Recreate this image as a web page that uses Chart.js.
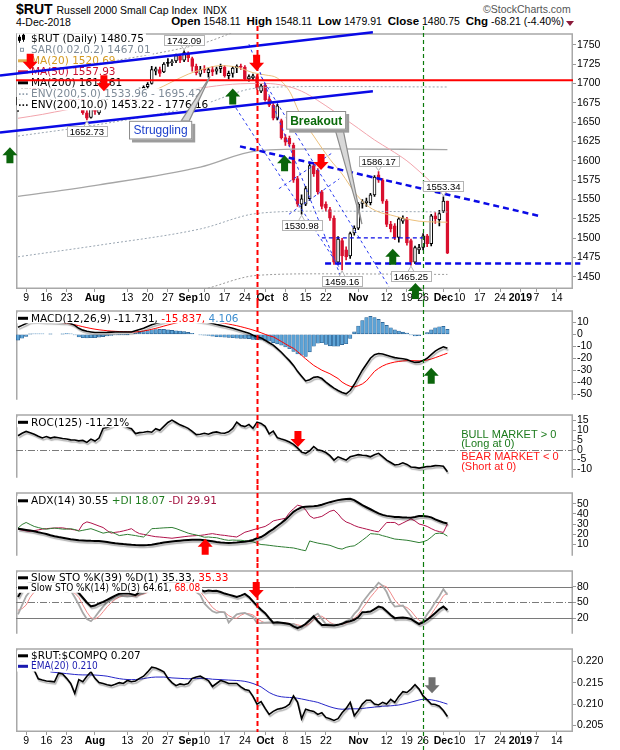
<!DOCTYPE html>
<html lang="en">
<head>
<meta charset="utf-8">
<title>$RUT Russell 2000 Small Cap Index</title>
<script src="https://cdn.jsdelivr.net/npm/chart.js@4.4.1/dist/chart.umd.min.js"></script>
<style>
  html, body { margin: 0; padding: 0; background: #fff; }
  body { position: relative; width: 620px; height: 750px; overflow: hidden;
         font-family: "Liberation Sans", Arial, sans-serif; color: #000; }
  .pane { position: absolute; left: 0; width: 620px; }
  #title { position: absolute; left: 16px; top: 1px; font-size: 10.5px; white-space: nowrap; }
  #title b { font-size: 14px; margin-right: 1px; }
  #title .ex { font-size: 10px; margin-left: 3px; }
  #copy { position: absolute; left: 483px; top: 3px; font-size: 10.5px; color: #555; }
  #date { position: absolute; left: 16px; top: 16px; font-size: 10.5px; }
  #quote { position: absolute; right: 56px; top: 15px; font-size: 10.5px; white-space: nowrap; }
  #quote b { font-size: 11.5px; }
  #tri { position: absolute; left: 566px; top: 21px; width: 0; height: 0;
         border-left: 4px solid transparent; border-right: 4px solid transparent;
         border-top: 5px solid #8b1a3a; }
</style>
</head>
<body>
<div id="title"><b>$RUT</b> Russell 2000 Small Cap Index <span class="ex">INDX</span></div>
<div id="copy">&copy;StockCharts.com</div>
<div id="date">4-Dec-2018</div>
<div id="quote"><b>Open</b> 1548.11 &nbsp;<b>High</b> 1548.11 &nbsp;<b>Low</b> 1479.91 &nbsp;<b>Close</b> 1480.75 &nbsp;<b>Chg</b> -68.21 (-4.40%)</div>
<div id="tri"></div>

<div class="pane" style="top:26px;height:277px"><canvas id="mainChart"></canvas></div>
<div class="pane" style="top:303px;height:104px"><canvas id="macdChart"></canvas></div>
<div class="pane" style="top:407px;height:78px"><canvas id="rocChart"></canvas></div>
<div class="pane" style="top:485px;height:78px"><canvas id="adxChart"></canvas></div>
<div class="pane" style="top:563px;height:78px"><canvas id="stoChart"></canvas></div>
<div class="pane" style="top:641px;height:109px"><canvas id="ratioChart"></canvas></div>

<script>
// x values are trading-day numbers: 0 = 5 Jul 2018, 106 = 4 Dec 2018, later ones are future sessions
const tickDays = [2, 7, 12, 19, 27, 32, 37, 42, 46, 51, 56, 61, 66, 71, 76, 84, 91, 96, 100, 105, 109, 114, 119, 124, 128, 133];
const tickLabels = ["9", "16", "23", "Aug", "13", "20", "27", "Sep", "10", "17", "24", "Oct", "8", "15", "22", "Nov", "12", "19", "26", "Dec", "10", "17", "24", "2019", "7", "14"];
const monthLabels = ["Aug", "Sep", "Oct", "Nov", "Dec", "2019"];
const markerDays = [59, 100];

// daily candles
const openP = [
  1672, 1682, 1693, 1699, 1694, 1688, 1693, 1688, 1682, 1691,
  1690, 1686, 1686, 1690, 1676, 1684, 1680, 1662, 1656, 1670,
  1662, 1675, 1680, 1686, 1690, 1687, 1682, 1680, 1674, 1686,
  1682, 1690, 1696, 1700, 1716, 1718, 1715, 1727, 1727, 1729,
  1735, 1730, 1738, 1732, 1722, 1712, 1719, 1714, 1718, 1716,
  1719, 1721, 1710, 1713, 1720, 1722, 1721, 1706, 1707, 1709,
  1690, 1698, 1680, 1672, 1655, 1652, 1630, 1629, 1620, 1577,
  1544, 1544, 1551, 1594, 1588, 1560, 1544, 1537, 1526, 1469,
  1497, 1485, 1477, 1507, 1513, 1545, 1546, 1546, 1556, 1582,
  1575, 1548, 1518, 1516, 1501, 1522, 1525, 1497, 1469, 1485,
  1488, 1503, 1493, 1529, 1524, 1535, 1548.11];
const highP = [
  1684, 1694, 1702, 1703, 1697, 1695, 1696, 1691, 1693, 1696,
  1693, 1692, 1690, 1693, 1686, 1688, 1682, 1665, 1672, 1674,
  1676, 1682, 1687, 1693, 1692, 1690, 1685, 1684, 1689, 1688,
  1694, 1697, 1701, 1722, 1721, 1721, 1727, 1732, 1731, 1738,
  1737, 1742.09, 1741, 1734, 1725, 1722, 1723, 1720, 1722, 1721,
  1725, 1723, 1716, 1722, 1724, 1725, 1723, 1711, 1712, 1711,
  1699, 1700, 1683, 1674, 1673, 1654, 1634, 1632, 1623, 1580,
  1556, 1567, 1597, 1598, 1590, 1562, 1547, 1540, 1529, 1502,
  1500, 1489, 1508, 1516, 1546, 1550, 1552, 1558, 1581, 1586.17,
  1577, 1550, 1522, 1519, 1527, 1529, 1527, 1499, 1490, 1492,
  1506, 1505, 1531, 1533, 1536, 1553.34, 1548.11];
const lowP = [
  1664, 1680, 1690, 1692, 1683, 1684, 1686, 1680, 1679, 1686,
  1681, 1683, 1679, 1673, 1670, 1676, 1660, 1652.73, 1655, 1660,
  1660, 1672, 1677, 1684, 1683, 1682, 1676, 1670, 1673, 1672,
  1680, 1686, 1693, 1699, 1711, 1709, 1714, 1722, 1723, 1727,
  1727, 1728, 1728, 1716, 1711, 1709, 1714, 1708, 1710, 1712,
  1714, 1708, 1706, 1708, 1714, 1718, 1704, 1703, 1704, 1692,
  1688, 1677, 1670, 1653, 1653, 1628, 1620, 1619, 1572, 1541,
  1530.98, 1542, 1549, 1580, 1557, 1538, 1535, 1523, 1466, 1466,
  1459.16, 1472, 1474, 1504, 1511, 1539, 1541, 1543, 1554, 1572,
  1545, 1515, 1508, 1498, 1495, 1519, 1491, 1465.25, 1467, 1480,
  1485, 1489, 1490, 1519, 1516, 1533, 1479.91];
const closeP = [
  1682, 1692, 1699, 1695, 1686, 1693, 1688, 1684, 1691, 1690,
  1686, 1688, 1688, 1676, 1684, 1680, 1662, 1655, 1670, 1664,
  1674, 1680, 1685, 1690, 1686, 1684, 1680, 1673, 1688, 1680,
  1691, 1695, 1699, 1718, 1719, 1713, 1725, 1726, 1728, 1736,
  1730, 1740, 1733, 1722, 1714, 1718, 1717, 1718, 1715, 1719,
  1722, 1710, 1713, 1720, 1722, 1721, 1706, 1709, 1710, 1694,
  1697, 1679, 1672, 1655, 1671, 1630, 1624, 1622, 1575, 1544,
  1551, 1564, 1594, 1583, 1560, 1541, 1539, 1526, 1469, 1499,
  1477, 1476, 1506, 1513, 1544, 1547, 1548, 1556, 1579, 1575,
  1548, 1518, 1512, 1501, 1525, 1526, 1494, 1469, 1488, 1488,
  1503, 1493, 1529, 1525, 1532, 1548, 1480.75];

// price overlays, read at a few days each
const ma20 = [[0, 1680], [6, 1684], [12, 1686], [18, 1684], [24, 1682], [30, 1686], [34, 1692], [38, 1702], [42, 1712], [46, 1719], [50, 1723], [54, 1721], [58, 1714], [61, 1711], [64, 1707], [67, 1690], [70, 1656], [73, 1632], [77, 1602], [80, 1583], [83, 1560], [86, 1543], [89, 1534], [92, 1530], [95, 1526], [99, 1522], [103, 1521], [106, 1520.69]];
const ma50 = [[0, 1655], [6, 1660], [12, 1666], [20, 1672], [28, 1678], [36, 1686], [45, 1694], [53, 1699], [61, 1700], [66, 1697], [70, 1690], [74, 1678], [78, 1664], [84, 1642], [88, 1627], [92, 1614], [96, 1600], [100, 1582], [103, 1568], [106, 1557.93]];
const ma200 = [[0, 1554], [20, 1569], [45, 1592], [59, 1613], [75, 1615.5], [106, 1614.61]];
const env5Upper = [[0, 1632], [20, 1647], [45, 1672], [59, 1694], [75, 1696], [106, 1695.42]];
const env5Lower = [[0, 1476], [20, 1491], [45, 1512], [59, 1532], [75, 1535], [106, 1533.96]];
const env10Upper = [[0, 1709], [20, 1726], [45, 1751], [59, 1774], [75, 1777], [106, 1776.16]];
const env10Lower = [[0, 1399], [20, 1412], [45, 1433], [59, 1452], [75, 1454], [106, 1453.22]];

// hand-drawn trend lines: [day, price] end points
const channelTop = [[-4.45, 1710.2], [87.6, 1766.1]];
const channelBottom = [[-4.45, 1636.5], [87.6, 1689.8]];
const resistanceLine = [[-0.5, 1704], [137, 1704]];
const downTrend = [[54.8, 1618.7], [128.9, 1528.5]];
const supportLine = [[75.8, 1467.5], [138.8, 1467.5]];
const midLine = [[75, 1500.5], [100, 1500.5]];
const wedgeLines = [
  [[57.0, 1750.8], [81.0, 1433.2]],
  [[60.0, 1708.9], [91.6, 1437.0]],
  [[53.8, 1668.2], [79.3, 1462.4]],
  [[64.4, 1564.0], [77.8, 1611.1]],
  [[66.9, 1531.0], [79.3, 1576.7]]];
const peakNotes = [[41, 1742.09], [89, 1586.17], [105, 1553.34]];
const troughNotes = [[17, 1652.73], [70, 1530.98], [80, 1459.16], [97, 1465.25]];
const redDownArrows = [[3, 1717.8], [21.2, 1689.8], [58.9, 1716.5], [74.8, 1588.2]];
const greenUpArrows = [[-2, 1617.4], [53, 1693.6], [65.8, 1607.2], [92.5, 1486.5], [98.1, 1442]];
const strugglingBox = [27.4, 1651.7, 43.0, 1627.6];
const strugglingTip = [47.4, 1709];
const breakoutBox = [66.2, 1664.4, 81.0, 1640.3];
const breakoutTip = [84.9, 1518.3];

// MACD(12,26,9)
const macdLine = [
  6, 7.5, 9, 10.8, 11, 11, 10.8, 10.5, 10.5, 10.3,
  10.2, 10, 10, 9, 7.5, 5, 3.5, 2.5, 2, 1.5,
  1.5, 1.5, 1.6, 1.8, 2, 2, 2, 2, 2, 3,
  4, 5, 6.5, 8, 9, 10, 11, 11.5, 12, 12.5,
  13, 13, 12.8, 12.3, 11.5, 11, 10.5, 10, 9, 8.2,
  7.5, 6.8, 6, 5, 4, 3, 2, 1, -0.7, -2,
  -3, -5, -7, -9, -12, -15, -18.6, -22, -26, -31,
  -35, -39, -38, -36, -35.5, -37, -40, -42.6, -45, -47,
  -48.6, -49.8, -47, -42, -36, -30, -25, -20, -17, -16,
  -16.5, -17.5, -18.5, -19.5, -20, -20.5, -21, -22.5, -23.5, -23.3,
  -22, -20, -17, -14, -12, -10.4, -11.73];
const macdSignal = [
  10.8, 10.8, 10.7, 10.7, 10.6, 10.6, 10.5, 10.5, 10.4, 10.3,
  10.2, 9.8, 9.3, 8.6, 8, 7.2, 6.4, 5.6, 4.9, 4.3,
  3.8, 3.4, 3, 2.7, 2.5, 2.3, 2.2, 2.1, 2, 2,
  2.3, 2.8, 3.4, 4.2, 5, 5.9, 6.9, 7.8, 8.7, 9.5,
  10.2, 10.8, 11.2, 11.4, 11.5, 11.4, 11.2, 11, 10.6, 10.2,
  9.7, 9.2, 8.6, 7.9, 7.2, 6.4, 5.5, 4.6, 3.6, 2.5,
  1.3, 0, -1.2, -2.1, -4, -6, -8, -10, -11.7, -14.5,
  -17.5, -20.5, -23.3, -26, -28, -30, -31.5, -33, -35, -37,
  -40, -42, -43.5, -44, -43, -41.5, -39, -35, -31, -28.5,
  -26.5, -25, -24, -23.2, -22.7, -22.3, -22, -22, -22.1, -22.2,
  -22, -21.5, -20.7, -19.5, -18.3, -17, -15.84];
const macdHist = [
  -4.8, -3.3, -1.7, 0.1, 0.4, 0.4, 0.3, 0, 0.1, 0,
  0, 0.2, 0.7, 0.4, -0.5, -2.2, -2.9, -3.1, -2.9, -2.8,
  -2.3, -1.9, -1.4, -0.9, -0.5, -0.3, -0.2, -0.1, 0, 1,
  1.7, 2.2, 3.1, 3.8, 4, 4.1, 4.1, 3.7, 3.3, 3,
  2.8, 2.2, 1.6, 0.9, 0, -0.4, -0.7, -1, -1.6, -2,
  -2.2, -2.4, -2.6, -2.9, -3.2, -3.4, -3.5, -3.6, -4.3, -4.5,
  -4.3, -5, -5.8, -6.9, -8, -9, -10.6, -12, -14.3, -16.5,
  -17.5, -18.5, -14.7, -10, -7.5, -7, -8.5, -9.6, -10, -10,
  -8.6, -7.8, -3.5, 2, 7, 11.5, 14, 15, 14, 12.5,
  10, 7.5, 5.5, 3.7, 2.7, 1.8, 1, -0.5, -1.4, -1.1,
  0, 1.5, 3.7, 5.5, 6.3, 6.6, 4.11];
const macdUpArrows = [[102, -28]];

// ROC(125)
const roc = [
  7.2, 8.5, 9.4, 8.8, 8, 7, 6.1, 6.8, 6, 6.5,
  6.2, 5.8, 5.5, 5.1, 5, 4.6, 4.8, 3.8, 5.5, 4.5,
  6, 11, 11.5, 12.3, 13.5, 14, 12.5, 11.5, 10.8, 8.3,
  8.8, 9, 9.4, 9, 10.8, 10, 12, 14, 15.2, 14,
  12.8, 12, 11, 9.5, 7.8, 8, 8.5, 8, 8.8, 9.2,
  8.6, 8.5, 9.2, 11, 14.2, 12.5, 11.9, 13, 11, 14.2,
  13.5, 12, 8.2, 9.6, 6.2, 5.5, 4.9, 4, 2.8, 1,
  -1.2, -1.8, -0.5, 1.7, 0, -0.5, -1.4, -3, -5.3, -3.6,
  -4.5, -5.3, -3.6, -3, -2.5, -2.8, -3, -3.6, -2.5, -1.8,
  -3.5, -5.3, -6.5, -7.8, -7.5, -6.7, -7.5, -8.8, -9, -9.4,
  -9, -8.6, -8.5, -8.1, -8.2, -8.4, -11.21];
const rocZero = [0];
const rocDownArrows = [[69.1, 1.5]];
const rocNoteDay = 109.4;
const rocNoteLevels = [7.8, 2.8, -3.5, -8.9];
const rocNotes = ["BULL MARKET > 0", "(Long at 0)", "BEAR MARKET < 0", "(Short at 0)"];

// ADX(14)
const adx = [
  25.4, 24.8, 24.2, 23.5, 22.8, 21.8, 21, 20.2, 19, 18,
  17.2, 16.5, 15.8, 15, 14.5, 14, 13.8, 13.6, 13.4, 13.3,
  13.2, 12.7, 12.2, 11.6, 11, 10.6, 10.2, 9.9, 9.5, 9.3,
  9.2, 9.2, 9.3, 9.6, 10.3, 11, 11.8, 12.3, 12.8, 13.2,
  13.6, 13.9, 14.2, 14.4, 14.5, 14.4, 14.1, 13.6, 13, 12.3,
  11.8, 11.5, 11.4, 11.5, 11.8, 12.2, 12.6, 13.2, 14.3, 16,
  17.2, 19.5, 22.5, 25, 28, 31, 34.3, 38, 42, 44.5,
  46.5, 47, 47.3, 47.5, 48, 49, 50.3, 51.5, 52.5, 53.5,
  54.2, 54.7, 54.8, 53.5, 51, 48.5, 46.5, 44.5, 42.5, 40.5,
  39, 38, 37.5, 37, 36.8, 36.5, 36.3, 36.2, 36.8, 37.8,
  37.8, 37.5, 36.5, 34.5, 33, 31.5, 30.55];
const plusDI = [
  26, 29.5, 31.5, 29.5, 27.6, 26.5, 25.5, 24.9, 25.5, 26,
  25.5, 25, 24.9, 25.4, 24.5, 23, 23.8, 24.6, 25.4, 24,
  22.5, 21, 21.8, 22.3, 20.5, 18.6, 19.2, 19.8, 19.2, 18.6,
  17.8, 17.2, 21, 25.4, 25.6, 25.9, 26.2, 26.4, 26.6, 25.5,
  24, 22.5, 21, 20, 19.2, 18.2, 17, 17.2, 16.8, 16.5,
  15.5, 14.5, 13.9, 14.2, 14, 14, 13.5, 13, 12.5, 11,
  9.8, 9.5, 9, 8.5, 8, 7.6, 7.2, 6.8, 6.4, 5.5,
  4.5, 3.7, 13.3, 12.2, 11.2, 10.5, 9.8, 9, 7.5, 6,
  5.3, 7, 8, 8.5, 11, 14, 17, 20.5, 20.2, 19.8,
  18.5, 17.5, 16.3, 15.2, 14.8, 14.4, 14, 13.3, 12.5, 11.7,
  12.5, 14, 17, 20.5, 21, 20.5, 18.07];
const minusDI = [
  24.9, 24, 23.2, 22.7, 23.5, 24.2, 25, 25.4, 25.8, 26,
  26.2, 26.2, 25.5, 24.8, 24.2, 23.6, 30, 32.1, 31, 29.5,
  28, 26.5, 23.5, 21, 21.8, 22.3, 23.2, 24.2, 25.4, 22.5,
  20.5, 19.8, 19, 18.2, 17.5, 17.2, 16.8, 16.4, 16, 16.5,
  17, 17.5, 18, 18.3, 18.6, 18.8, 19.3, 20, 20.5, 19.8,
  19.2, 18.8, 18.2, 17.7, 17.2, 19.5, 21.9, 23, 24.3, 25.4,
  26.5, 27.6, 30, 33, 34, 34.8, 35.6, 41, 45, 48.5,
  47.5, 44, 38, 35.6, 36.5, 37.5, 40, 42.5, 43.6, 40,
  35, 32, 30.5, 28.5, 27, 26, 25, 24, 23, 22.3,
  27, 31.5, 31.5, 31.5, 29, 31, 33, 35, 33, 30,
  29, 27.6, 25.5, 23.6, 22.5, 21.7, 29.91];
const adxUpArrows = [[46.2, 15.6]];

// Slow stochastics
const stoK39 = [
  60.6, 75, 85, 88, 86, 87, 85, 84, 86, 87,
  85, 84, 83, 80, 74.7, 68, 59, 50, 42.5, 44,
  48, 51, 55, 59, 63, 66.5, 67, 67.6, 66, 64,
  70, 73, 75, 80, 84, 82, 86, 88, 89, 87,
  90, 92, 88, 82, 78, 74.7, 71, 73, 72, 72.5,
  70, 67, 65, 63, 60.6, 63, 66.5, 60.6, 52, 43.5,
  36, 29.4, 20, 11.2, 12, 11.2, 10, 8.6, 4, 0.8,
  4, 8.6, 16, 23.4, 14, 6.9, 6.5, 6.2, 5.8, 7,
  9, 12.4, 14, 16.8, 22, 31.4, 31.8, 32.4, 37, 42,
  40, 33, 26, 19.9, 20.5, 21, 20, 18.3, 13, 8.6,
  12, 16.8, 23, 29.9, 37, 42, 35.33];
const stoK14 = [
  27.3, 45, 62, 72, 75, 71.6, 72, 74, 72, 73,
  76, 72, 70, 73, 60, 46, 30, 18, 13.9, 22,
  32.4, 42, 50.6, 56, 61, 64, 62, 61, 62, 64,
  66, 67.6, 75, 85, 88, 85, 90, 92, 93, 88,
  92, 95, 88, 78, 70, 64, 48.2, 40, 33, 29.9,
  32, 31, 11.3, 20, 27.3, 29, 30, 26, 22, 10.2,
  10.5, 11, 11.5, 11, 11, 10.5, 9.5, 9, 8.6, 4,
  1.8, 10, 17, 24, 28.4, 18, 8.6, 8, 7.5, 7,
  10, 14, 17, 28, 36, 50, 60, 70, 78, 88,
  82, 70, 52, 42, 43, 44, 34, 24, 14, 8.6,
  15, 27.3, 38, 50.6, 62, 75.6, 64.61];
const stoD3 = [
  35, 38, 45, 60, 70, 73, 73, 72.5, 72.7, 73,
  73.7, 73.7, 72.7, 71.7, 67.7, 59.7, 45.3, 31.3, 20.6, 18,
  22.8, 32.1, 41.7, 49.5, 55.9, 60.3, 62.3, 62.3, 61.7, 62.3,
  64, 65.9, 69.5, 75.9, 82.7, 86, 87.7, 89, 91.7, 91,
  91, 91.7, 91.7, 87, 78.7, 70.7, 60.7, 50.7, 40.4, 34.3,
  31.6, 31, 24.8, 20.8, 19.5, 25.4, 28.8, 28.3, 26, 19.4,
  14.2, 10.6, 11, 11.2, 11.2, 10.8, 10.3, 9.7, 9, 7.2,
  4.8, 5.3, 9.6, 17, 23.1, 23.5, 18.3, 11.5, 8, 7.5,
  8.2, 10.3, 13.7, 19.7, 27, 38, 48.7, 60, 69.3, 78.7,
  82.7, 80, 68, 54.7, 45.7, 43, 40.3, 34, 24, 15.5,
  12.5, 17, 27, 38.6, 50.2, 62.7, 68.08];
const stoBands = [80, 20];
const stoMid = [50];
const stoDownArrows = [[58.8, 58.6]];

// $RUT:$COMPQ ratio and its EMA(20)
const ratio = [
  0.2195, 0.2200, 0.2192, 0.2185, 0.2179, 0.2159, 0.2156, 0.2154, 0.2153, 0.2152,
  0.2172, 0.2170, 0.2160, 0.2148, 0.2125, 0.2157, 0.2152, 0.2165, 0.2175, 0.2160,
  0.2150, 0.2148, 0.2145, 0.2143, 0.2146, 0.2150, 0.2148, 0.2155, 0.2152, 0.2154,
  0.2160, 0.2165, 0.2175, 0.2186, 0.2184, 0.2180, 0.2175, 0.2160, 0.2150, 0.2143,
  0.2147, 0.2145, 0.2148, 0.2160, 0.2163, 0.2165, 0.2160, 0.2155, 0.2141, 0.2148,
  0.2155, 0.2152, 0.2148, 0.2148, 0.2148, 0.2140, 0.2134, 0.2132, 0.2118, 0.2100,
  0.2106, 0.2090, 0.2076, 0.2083, 0.2088, 0.2090, 0.2093, 0.2100, 0.2119, 0.2105,
  0.2066, 0.2088, 0.2085, 0.2083, 0.2076, 0.2080, 0.2069, 0.2066, 0.2062, 0.2066,
  0.2080, 0.2090, 0.2104, 0.2073, 0.2085, 0.2100, 0.2109, 0.2109, 0.2100, 0.2098,
  0.2104, 0.2100, 0.2111, 0.2104, 0.2118, 0.2129, 0.2127, 0.2135, 0.2145, 0.2135,
  0.2119, 0.2110, 0.2100, 0.2099, 0.2095, 0.2085, 0.2071];
const ratioEma = [[8, 0.2175], [10, 0.2173], [12, 0.2171], [14, 0.2169], [16, 0.2168], [18, 0.2168], [20, 0.2167], [22, 0.2165], [24, 0.2161], [26, 0.2158], [28, 0.2157], [30, 0.2158], [32, 0.2161], [34, 0.2163], [36, 0.2163], [38, 0.2161], [40, 0.2160], [42, 0.2159], [44, 0.2160], [46, 0.2160], [48, 0.2158], [50, 0.2157], [52, 0.2156], [54, 0.2155], [56, 0.2153], [58, 0.2148], [60, 0.2140], [62, 0.2127], [64, 0.2119], [66, 0.2116], [68, 0.2115], [70, 0.2112], [72, 0.2108], [74, 0.2104], [76, 0.2097], [78, 0.2091], [80, 0.2088], [82, 0.2089], [84, 0.2089], [86, 0.2091], [88, 0.2093], [90, 0.2095], [92, 0.2096], [94, 0.2098], [96, 0.2102], [98, 0.2107], [100, 0.2111], [102, 0.2110], [104, 0.2106], [106, 0.2100]];
const ratioDownArrows = [[102.2, 0.2125]];

// ---------- styling ----------
const X_MIN = -0.5, X_MAX = 137;
const RED = '#d9102e';
const BLUE = '#0a0ae6';
const FRAME = '#a8a8a8';
const AXIS_FONT = { family: 'Liberation Sans', size: 10.5 };
const LEGEND_FONT = '10.5px "DejaVu Sans"';
const SMALL_FONT = '10px "DejaVu Sans Condensed", "DejaVu Sans"';
const NOTE_FONT = '9.5px "Liberation Sans"';

const pts = arr => arr.map((v, i) => ({ x: i, y: v }));
const pairs = arr => arr.map(([x, y]) => ({ x, y }));

function xAxis(labels, height) {
  return {
    type: 'linear', min: X_MIN, max: X_MAX, offset: false, display: labels,
    grid: { display: true, drawOnChartArea: false, drawTicks: true, tickLength: 3, color: '#9a9a9a', offset: false },
    border: { display: false },
    afterBuildTicks: s => { s.ticks = tickDays.map(v => ({ value: v })); },
    afterFit: s => { if (labels) s.height = height; },
    ticks: {
      autoSkip: false, maxRotation: 0, padding: 0, color: '#000',
      font: c => ({ family: 'Liberation Sans', size: 10.5, weight: monthLabels.includes(tickLabels[c.index]) ? 'bold' : 'normal' }),
      callback: (v, i) => tickLabels[i]
    }
  };
}

function yAxis(min, max, ticks, fmt) {
  return {
    position: 'right', min, max,
    afterBuildTicks: s => { s.ticks = ticks.map(v => ({ value: v })); },
    afterFit: s => { s.width = 47; },
    grid: { display: true, drawOnChartArea: false, drawTicks: true, tickLength: 3, color: '#9a9a9a' },
    border: { display: false },
    ticks: { autoSkip: false, padding: 1, color: '#000', font: AXIS_FONT, callback: fmt || (v => v) }
  };
}

function lineSet(data, color, width, extra) {
  return Object.assign({ type: 'line', data, borderColor: color, borderWidth: width, pointRadius: 0,
    fill: false, tension: 0, order: 12 }, extra || {});
}

function segment(points, color, width, dash, order, noClip) {
  const ds = { type: 'line', data: pairs(points), borderColor: color, borderWidth: width,
    borderDash: dash, pointRadius: 0, fill: false, tension: 0, order };
  if (noClip) ds.clip = false;
  return ds;
}

// ---------- drawing helpers ----------
function drawArrow(ctx, x, y, dir, color) {
  const s = dir === 'down' ? -1 : 1;
  ctx.save();
  ctx.beginPath();
  ctx.moveTo(x, y);
  ctx.lineTo(x + 7.5, y + s * 8);
  ctx.lineTo(x + 3.5, y + s * 8);
  ctx.lineTo(x + 3.5, y + s * 16);
  ctx.lineTo(x - 3.5, y + s * 16);
  ctx.lineTo(x - 3.5, y + s * 8);
  ctx.lineTo(x - 7.5, y + s * 8);
  ctx.closePath();
  ctx.fillStyle = color;
  ctx.fill();
  ctx.restore();
}

function drawNote(ctx, x, y, text, below) {
  ctx.save();
  ctx.font = NOTE_FONT;
  const w = Math.round(ctx.measureText(text).width) + 6, h = 10;
  const bx = Math.round(x - w / 2) + 0.5;
  const by = Math.round(below ? y + 6 : y - 6 - h) + 0.5;
  const edge = below ? by : by + h;
  ctx.beginPath();
  ctx.moveTo(x - 3, edge);
  ctx.lineTo(x, below ? y + 1 : y - 1);
  ctx.lineTo(x + 3, edge);
  ctx.fillStyle = '#fff';
  ctx.fill();
  ctx.strokeStyle = '#b4b4b4';
  ctx.lineWidth = 1;
  ctx.stroke();
  ctx.fillRect(bx, by, w, h);
  ctx.strokeRect(bx, by, w, h);
  ctx.fillStyle = '#000';
  ctx.textAlign = 'center';
  ctx.textBaseline = 'middle';
  ctx.fillText(text, x, by + h / 2 + 0.5);
  ctx.restore();
}

function drawCallout(ctx, x1, y1, x2, y2, tx, ty, text, font, color) {
  ctx.save();
  const ey = ty > y2 ? y2 : y1;
  ctx.beginPath();
  ctx.moveTo(x2 - 11, ey);
  ctx.lineTo(tx, ty);
  ctx.lineTo(x2 - 3, ey);
  ctx.closePath();
  ctx.fillStyle = '#d8d8d8';
  ctx.fill();
  ctx.strokeStyle = '#8c8c8c';
  ctx.lineWidth = 1.2;
  ctx.stroke();
  ctx.fillStyle = '#9c9c9c';
  ctx.fillRect(x1 + 3, y1 + 3, x2 - x1, y2 - y1);
  ctx.fillStyle = '#fff';
  ctx.fillRect(x1, y1, x2 - x1, y2 - y1);
  ctx.strokeStyle = '#8c8c8c';
  ctx.lineWidth = 1;
  ctx.strokeRect(x1 + 0.5, y1 + 0.5, x2 - x1 - 1, y2 - y1 - 1);
  ctx.font = font;
  ctx.fillStyle = color;
  ctx.textAlign = 'center';
  ctx.textBaseline = 'middle';
  ctx.fillText(text, (x1 + x2) / 2, (y1 + y2) / 2 + 1);
  ctx.restore();
}

function drawSwatch(ctx, row, x, y) {
  const c = row.swatch || '#000';
  ctx.fillStyle = c;
  ctx.strokeStyle = c;
  ctx.lineWidth = 1;
  if (row.icon === 'dots') {
    for (let i = 0; i < 3; i++) ctx.fillRect(x + 1 + i * 3.5, y - 0.5, 1.6, 1.6);
  } else if (row.icon === 'square') {
    ctx.strokeRect(x + 2.5, y - 1.5, 3, 3);
  } else if (row.icon === 'candle') {
    ctx.fillRect(x + 1, y - 4, 1, 8);
    ctx.fillRect(x, y - 2, 3, 4);
    ctx.fillRect(x + 5, y - 5, 1, 8);
    ctx.strokeRect(x + 4.5, y - 3.5, 2, 4);
  } else {
    ctx.fillRect(x, y - 1.5, 10, 3);
  }
}

function drawRows(chart, o) {
  if (!o || !o.rows) return;
  const ctx = chart.ctx, a = chart.chartArea;
  ctx.save();
  ctx.textBaseline = 'middle';
  o.rows.forEach((row, r) => {
    const yc = a.top + o.first + r * o.step;
    ctx.font = row.font || LEGEND_FONT;
    const tx = a.left + 15;
    const w = row.parts.reduce((s, p) => s + ctx.measureText(p[0]).width, 0);
    ctx.fillStyle = '#fff';
    ctx.fillRect(a.left + 1, yc - o.step / 2, tx - a.left + w + 1, o.step);
    drawSwatch(ctx, row, a.left + 2, yc);
    let x = tx;
    row.parts.forEach(([t, c]) => {
      ctx.fillStyle = c;
      ctx.fillText(t, x, yc + 0.5);
      x += ctx.measureText(t).width;
    });
  });
  ctx.restore();
}

// ---------- plugins ----------
const frame = {
  id: 'frame',
  beforeDatasetsDraw(chart, args, o) {
    const { ctx, chartArea: a } = chart;
    ctx.save();
    ctx.strokeStyle = FRAME;
    ctx.lineWidth = 1.5;
    ctx.beginPath();
    ctx.moveTo(a.left + 0.75, a.bottom);
    ctx.lineTo(a.left + 0.75, a.top + 0.75);
    ctx.lineTo(a.right - 0.75, a.top + 0.75);
    ctx.lineTo(a.right - 0.75, a.bottom);
    if (o.closed) {
      ctx.moveTo(a.left, a.bottom - 0.75);
      ctx.lineTo(a.right, a.bottom - 0.75);
    }
    ctx.stroke();
    ctx.restore();
  }
};

const levelLines = {
  id: 'levelLines',
  beforeDatasetsDraw(chart, args, o) {
    const { ctx, chartArea: a, scales: { y } } = chart;
    const draw = (v, dash) => {
      const py = Math.round(y.getPixelForValue(v)) + 0.5;
      ctx.save();
      ctx.strokeStyle = '#7a7a7a';
      ctx.lineWidth = 1;
      ctx.setLineDash(dash);
      ctx.beginPath();
      ctx.moveTo(a.left, py);
      ctx.lineTo(a.right, py);
      ctx.stroke();
      ctx.restore();
    };
    (o.solid || []).forEach(v => draw(v, []));
    (o.dashdot || []).forEach(v => draw(v, [7, 2, 1, 2]));
  }
};

const shadow = {
  id: 'lineShadow',
  beforeDatasetDraw(chart, args) {
    if (!chart.data.datasets[args.index].shadowed) return;
    const ctx = chart.ctx;
    ctx.save();
    ctx.shadowColor = 'rgba(0,0,0,0.3)';
    ctx.shadowOffsetX = 1;
    ctx.shadowOffsetY = 2;
    ctx.shadowBlur = 1;
  },
  afterDatasetDraw(chart, args) {
    if (chart.data.datasets[args.index].shadowed) chart.ctx.restore();
  }
};

// legend text sits under the hand-drawn lines (order <= 5) but over the data
const panelLegend = {
  id: 'panelLegend',
  beforeDraw(chart) { chart.$legendDone = false; },
  beforeDatasetDraw(chart, args, o) {
    if (!chart.$legendDone && args.meta.order <= 5) { drawRows(chart, o); chart.$legendDone = true; }
  },
  afterDatasetsDraw(chart, args, o) {
    if (!chart.$legendDone) { drawRows(chart, o); chart.$legendDone = true; }
  }
};

const markers = {
  id: 'markers',
  afterDatasetsDraw(chart, args, o) {
    const { ctx, chartArea: a, scales: { x } } = chart;
    const styles = [{ color: '#ff0000', width: 2, dash: [5, 3] }, { color: '#0a7a0a', width: 1.2, dash: [4, 3] }];
    markerDays.forEach((d, i) => {
      const st = styles[i];
      const px = Math.round(x.getPixelForValue(d)) + 0.5;
      const bottom = (o.redToArea && i === 0) ? a.bottom : chart.height;
      ctx.save();
      ctx.strokeStyle = st.color;
      ctx.lineWidth = st.width;
      ctx.setLineDash(st.dash);
      ctx.beginPath();
      ctx.moveTo(px, 0);
      ctx.lineTo(px, bottom);
      ctx.stroke();
      ctx.restore();
    });
  }
};

const marks = {
  id: 'marks',
  afterDraw(chart, args, o) {
    if (!o.points) return;
    const { ctx, scales: { x, y } } = chart;
    o.points.forEach(([d, v]) => drawArrow(ctx, x.getPixelForValue(d), y.getPixelForValue(v), o.dir, o.color));
  }
};

const mainNotes = {
  id: 'mainNotes',
  afterDraw(chart) {
    const { ctx, scales: { x, y } } = chart;
    const X = d => x.getPixelForValue(d), Y = v => y.getPixelForValue(v);
    drawCallout(ctx, X(strugglingBox[0]), Y(strugglingBox[1]), X(strugglingBox[2]), Y(strugglingBox[3]),
      X(strugglingTip[0]), Y(strugglingTip[1]), 'Struggling', '12px "Liberation Sans"', '#1c3fcc');
    drawCallout(ctx, X(breakoutBox[0]), Y(breakoutBox[1]), X(breakoutBox[2]), Y(breakoutBox[3]),
      X(breakoutTip[0]), Y(breakoutTip[1]), 'Breakout', 'bold 12px "Liberation Sans"', '#0b6b0b');
    peakNotes.forEach(([d, v]) => drawNote(ctx, X(d), Y(v), v.toFixed(2), false));
    troughNotes.forEach(([d, v]) => drawNote(ctx, X(d), Y(v), v.toFixed(2), true));
    redDownArrows.forEach(([d, v]) => drawArrow(ctx, X(d), Y(v), 'down', '#ff0000'));
    greenUpArrows.forEach(([d, v]) => drawArrow(ctx, X(d), Y(v), 'up', '#0b650b'));
  }
};

const rocText = {
  id: 'rocText',
  afterDraw(chart) {
    const { ctx, scales: { x, y } } = chart;
    ctx.save();
    ctx.font = '11px "Liberation Sans"';
    ctx.textBaseline = 'middle';
    rocNotes.forEach((t, i) => {
      ctx.fillStyle = i < 2 ? '#1b7a1b' : '#ff1a1a';
      ctx.fillText(t, x.getPixelForValue(rocNoteDay), y.getPixelForValue(rocNoteLevels[i]));
    });
    ctx.restore();
  }
};

function panel(id, datasets, o) {
  return new Chart(document.getElementById(id), {
    type: 'bar',
    data: { datasets },
    options: {
      responsive: true, maintainAspectRatio: false, animation: false, events: [],
      layout: { padding: { left: 16, right: 0, top: o.padTop || 0, bottom: 0 } },
      scales: { x: xAxis(!!o.xLabels, o.xHeight || 0), y: yAxis(o.y[0], o.y[1], o.y[2], o.y[3]) },
      plugins: {
        legend: { display: false }, tooltip: { enabled: false },
        frame: { closed: !!o.closed },
        levelLines: o.levels || {},
        panelLegend: o.legend,
        markers: { redToArea: !!o.redToArea },
        marks: o.marks || {}
      }
    },
    plugins: [frame, levelLines, shadow, panelLegend, markers, marks].concat(o.extra || [])
  });
}

// ---------- main price panel ----------
const days = closeP.map((c, i) => i);
const candleColor = closeP.map((c, i) => (i > 0 && c < closeP[i - 1]) ? RED : '#000');
const bodyFill = closeP.map((c, i) => c < openP[i] ? candleColor[i] : '#fff');

panel('mainChart', [
  segment(channelTop, BLUE, 2.5, [], 1, true),
  segment(channelBottom, BLUE, 2.5, [], 1, true),
  segment(resistanceLine, '#ff0000', 2, [], 2, false),
  segment(downTrend, BLUE, 2.5, [6, 4], 2, false),
  segment(supportLine, BLUE, 2.5, [6, 4], 2, true),
  segment(midLine, BLUE, 1.4, [4, 3], 3, false),
  ...wedgeLines.map(l => segment(l, '#2a3cf0', 1, [3, 3], 5, false)),
  lineSet(pairs(ma20), '#ecc07c', 1, { tension: 0.4, cubicInterpolationMode: 'monotone', order: 14 }),
  lineSet(pairs(ma50), '#f2a4ac', 1, { tension: 0.4, cubicInterpolationMode: 'monotone', order: 14 }),
  lineSet(pairs(ma200), '#a6a6a6', 1.3, { tension: 0.4, cubicInterpolationMode: 'monotone', order: 15 }),
  lineSet(pairs(env5Upper), '#9aa6b2', 1, { borderDash: [2, 2], tension: 0.4, cubicInterpolationMode: 'monotone', order: 16 }),
  lineSet(pairs(env5Lower), '#9aa6b2', 1, { borderDash: [2, 2], tension: 0.4, cubicInterpolationMode: 'monotone', order: 16 }),
  lineSet(pairs(env10Upper), '#9a9a9a', 1, { borderDash: [2, 2], tension: 0.4, cubicInterpolationMode: 'monotone', order: 16 }),
  lineSet(pairs(env10Lower), '#9a9a9a', 1, { borderDash: [2, 2], tension: 0.4, cubicInterpolationMode: 'monotone', order: 16 }),
  { type: 'bar', data: days.map(i => ({ x: i, y: [lowP[i], highP[i]] })), backgroundColor: candleColor,
    barThickness: 1, grouped: false, borderWidth: 0, order: 21 },
  { type: 'bar', data: days.map(i => ({ x: i, y: [openP[i], closeP[i]] })), backgroundColor: bodyFill,
    borderColor: candleColor, borderWidth: 1, borderSkipped: false, minBarLength: 1,
    barThickness: 3, grouped: false, order: 20 }
], {
  padTop: 3, xLabels: true, xHeight: 14, closed: true,
  y: [1434.4, 1764.8, [1750, 1725, 1700, 1675, 1650, 1625, 1600, 1575, 1550, 1525, 1500, 1475, 1450]],
  legend: { first: 5.5, step: 11, rows: [
    { icon: 'candle', parts: [['$RUT (Daily) 1480.75', '#000']] },
    { icon: 'square', swatch: '#8a99a8', parts: [['SAR(0.02,0.2) 1467.01', '#7e8b98']] },
    { swatch: '#e0ae4c', parts: [['MA(20) 1520.69', '#d49a22']] },
    { swatch: '#d41a3c', parts: [['MA(50) 1557.93', '#c8102e']] },
    { swatch: '#000', parts: [['MA(200) 1614.61', '#000']] },
    { icon: 'dots', swatch: '#8a99a8', parts: [['ENV(200,5.0) 1533.96 - 1695.42', '#7e8b98']] },
    { icon: 'dots', swatch: '#000', parts: [['ENV(200,10.0) 1453.22 - 1776.16', '#000']] }
  ] },
  extra: [mainNotes]
});

// ---------- MACD ----------
panel('macdChart', [
  lineSet(pts(macdLine), '#000', 1.6, { shadowed: true, order: 10 }),
  lineSet(pts(macdSignal), '#ff0000', 1, { order: 11 }),
  { type: 'bar', data: pts(macdHist), backgroundColor: '#5da3d6', borderColor: '#24598a', borderWidth: 0.6,
    borderSkipped: false, barThickness: 3.4, grouped: false, order: 20 }
], {
  y: [-54.7, 20.1, [10, 0, -10, -20, -30, -40, -50]],
  legend: { first: 8, step: 10, rows: [
    { parts: [['MACD(12,26,9) -11.731, ', '#000'], ['-15.837, ', '#ff0000'], ['4.106', '#3e8ed0']] }
  ] },
  marks: { points: macdUpArrows, dir: 'up', color: '#0b650b' }
});

// ---------- ROC ----------
panel('rocChart', [
  lineSet(pts(roc), '#000', 1.6, { shadowed: true, order: 10 })
], {
  y: [-14.3, 18.2, [15, 10, 5, 0, -5, -10]],
  levels: { dashdot: rocZero },
  legend: { first: 8, step: 10, rows: [{ parts: [['ROC(125) -11.21%', '#000']] }] },
  marks: { points: rocDownArrows, dir: 'down', color: '#ff0000' },
  extra: [rocText]
});

// ---------- ADX ----------
panel('adxChart', [
  lineSet(pts(adx), '#000', 2, { shadowed: true, order: 10 }),
  lineSet(pts(plusDI), '#2e7d32', 1, { order: 11 }),
  lineSet(pts(minusDI), '#b0124a', 1, { order: 11 })
], {
  y: [-1.2, 61.2, [50, 40, 30, 20, 10]],
  legend: { first: 8.5, step: 10, rows: [
    { parts: [['ADX(14) 30.55 ', '#000'], ['+DI 18.07 ', '#1e7b1e'], ['-DI 29.91', '#a3123f']] }
  ] },
  marks: { points: adxUpArrows, dir: 'up', color: '#ff0000' }
});

// ---------- Slow STO ----------
panel('stoChart', [
  lineSet(pts(stoK39), '#000', 2, { shadowed: true, order: 10 }),
  lineSet(pts(stoK14), '#a8a8a8', 1.8, { order: 11 }),
  lineSet(pts(stoD3), '#f08a8a', 1, { order: 12 })
], {
  y: [-10, 111.7, [80, 50, 20]],
  levels: { solid: stoBands, dashdot: stoMid },
  legend: { first: 7.5, step: 10, rows: [
    { parts: [['Slow STO %K(39) %D(1) 35.33, ', '#000'], ['35.33', '#ff0000']] },
    { font: SMALL_FONT, parts: [['Slow STO %K(14) %D(3) 64.61, ', '#000'], ['68.08', '#ff0000']] }
  ] },
  marks: { points: stoDownArrows, dir: 'down', color: '#ff0000' }
});

// ---------- $RUT:$COMPQ ----------
panel('ratioChart', [
  lineSet(pts(ratio), '#000', 1.6, { shadowed: true, order: 10 }),
  lineSet(pairs(ratioEma), '#2626c8', 1, { tension: 0.4, cubicInterpolationMode: 'monotone', order: 11 })
], {
  xLabels: true, xHeight: 18, closed: true, redToArea: true,
  y: [0.2035, 0.2230, [0.220, 0.215, 0.210, 0.205], v => v.toFixed(3)],
  legend: { first: 7.5, step: 10.5, rows: [
    { parts: [['$RUT:$COMPQ 0.207', '#000']] },
    { font: SMALL_FONT, swatch: '#1a1ab0', parts: [['EMA(20) 0.210', '#1a1ab0']] }
  ] },
  marks: { points: ratioDownArrows, dir: 'down', color: '#707070' }
});
</script>
</body>
</html>
